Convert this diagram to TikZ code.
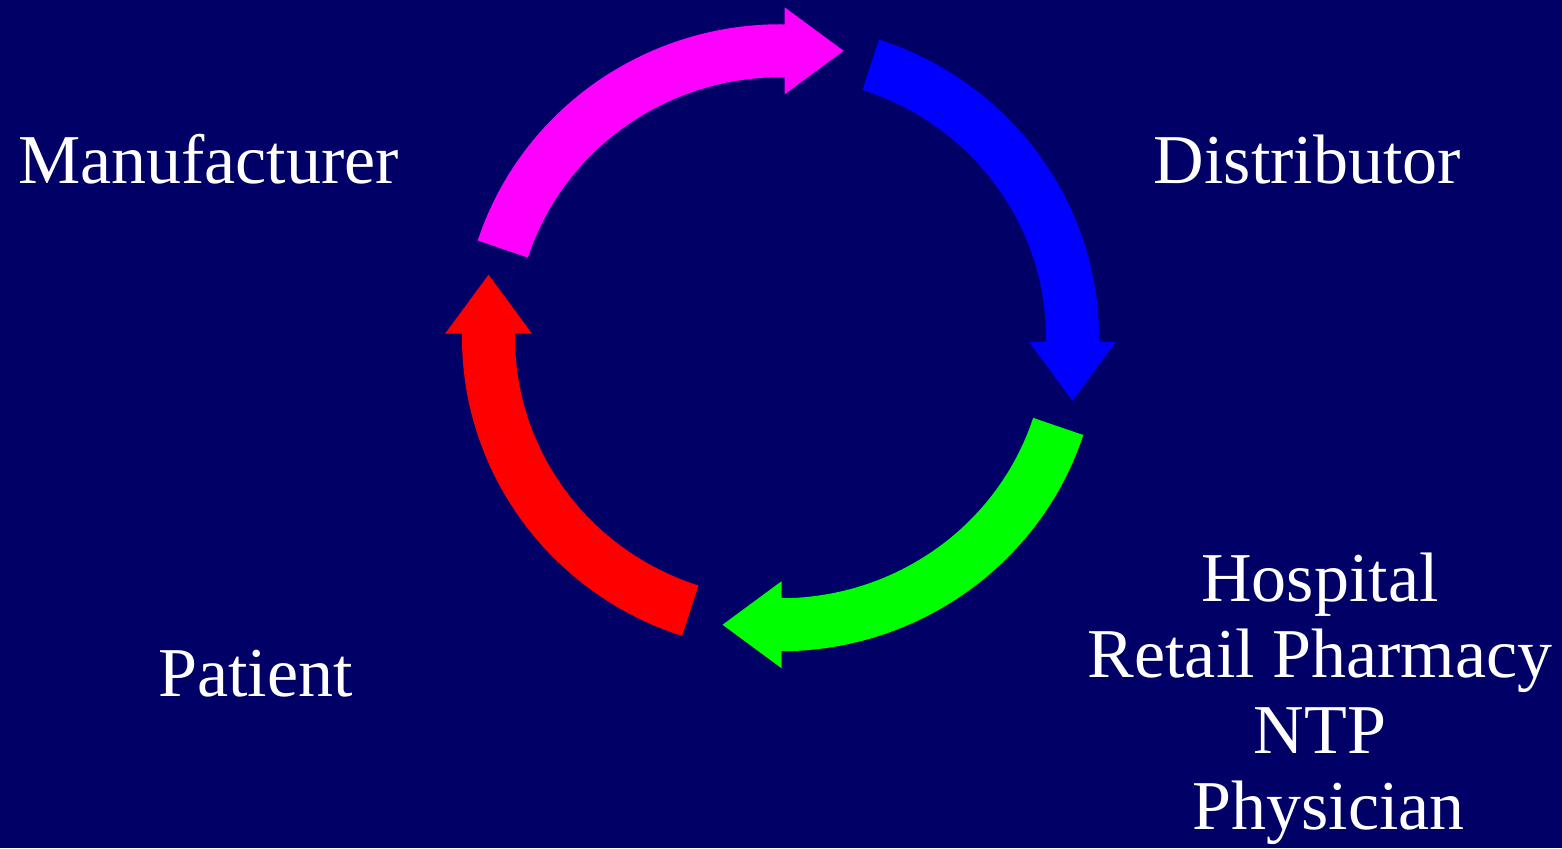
\documentclass[tikz,border=0pt]{standalone}
\usepackage{fontspec}
\setmainfont{Liberation Serif}
\usepackage{xcolor}
\usetikzlibrary{positioning}

\definecolor{navy}{RGB}{0,0,102}
\definecolor{cyclemagenta}{RGB}{255,0,255}
\definecolor{cycleblue}{RGB}{0,0,255}
\definecolor{cyclegreen}{RGB}{0,255,0}
\definecolor{cyclered}{RGB}{255,0,0}

\begin{document}
\begin{tikzpicture}[
  x=0.5pt, y=0.5pt,
  font=\fontsize{35}{37.85}\selectfont,
  party/.style={
    text=white,
    inner sep=0pt,
    align=center,
    anchor=base
  },
  shaft/.style={line width=26.5pt}
]

% Background
\fill[navy] (0,0) rectangle (1562,848);
\useasboundingbox (0,0) rectangle (1562,848);

% Parties
\node[party] (manu) at (208.5,664) {Manufacturer};
\node[party] (dist) at (1307.5,664) {Distributor};
\node[party] (pat) at (255.5,152) {Patient};
\node[party] (disp) at (1320,19) {Hospital\\Retail Pharmacy\\NTP\\\hspace*{0.25em}Physician};

% Cycle
\coordinate (c) at (780.5,510.25);
\path (c) ++(162:292 and 287) coordinate (m0);
\path (c) ++(72:292 and 287) coordinate (b0);
\path (c) ++(-18:292 and 287) coordinate (g0);
\path (c) ++(-108:292 and 287) coordinate (r0);

\draw[shaft, cyclemagenta] (m0) arc[start angle=162, end angle=89, x radius=292, y radius=287] coordinate (m1);
\fill[cyclemagenta] (m1) ++(-1,43.5) -- ++(59,-43.5) -- ++(-59,-43.5) -- cycle;

\draw[shaft, cycleblue] (b0) arc[start angle=72, end angle=-1, x radius=292, y radius=287] coordinate (b1);
\fill[cycleblue] (b1) ++(-43.5,1) -- ++(43.5,-59) -- ++(43.5,59) -- cycle;

\draw[shaft, cyclegreen] (g0) arc[start angle=-18, end angle=-90, x radius=292, y radius=287] coordinate (g1);
\fill[cyclegreen] (g1) ++(1,43.5) -- ++(-59,-43.5) -- ++(59,-43.5) -- cycle;

\draw[shaft, cyclered] (r0) arc[start angle=-108, end angle=-181, x radius=292, y radius=287] coordinate (r1);
\fill[cyclered] (r1) ++(-43.5,-1) -- ++(43.5,59) -- ++(43.5,-59) -- cycle;

\end{tikzpicture}
\end{document}
